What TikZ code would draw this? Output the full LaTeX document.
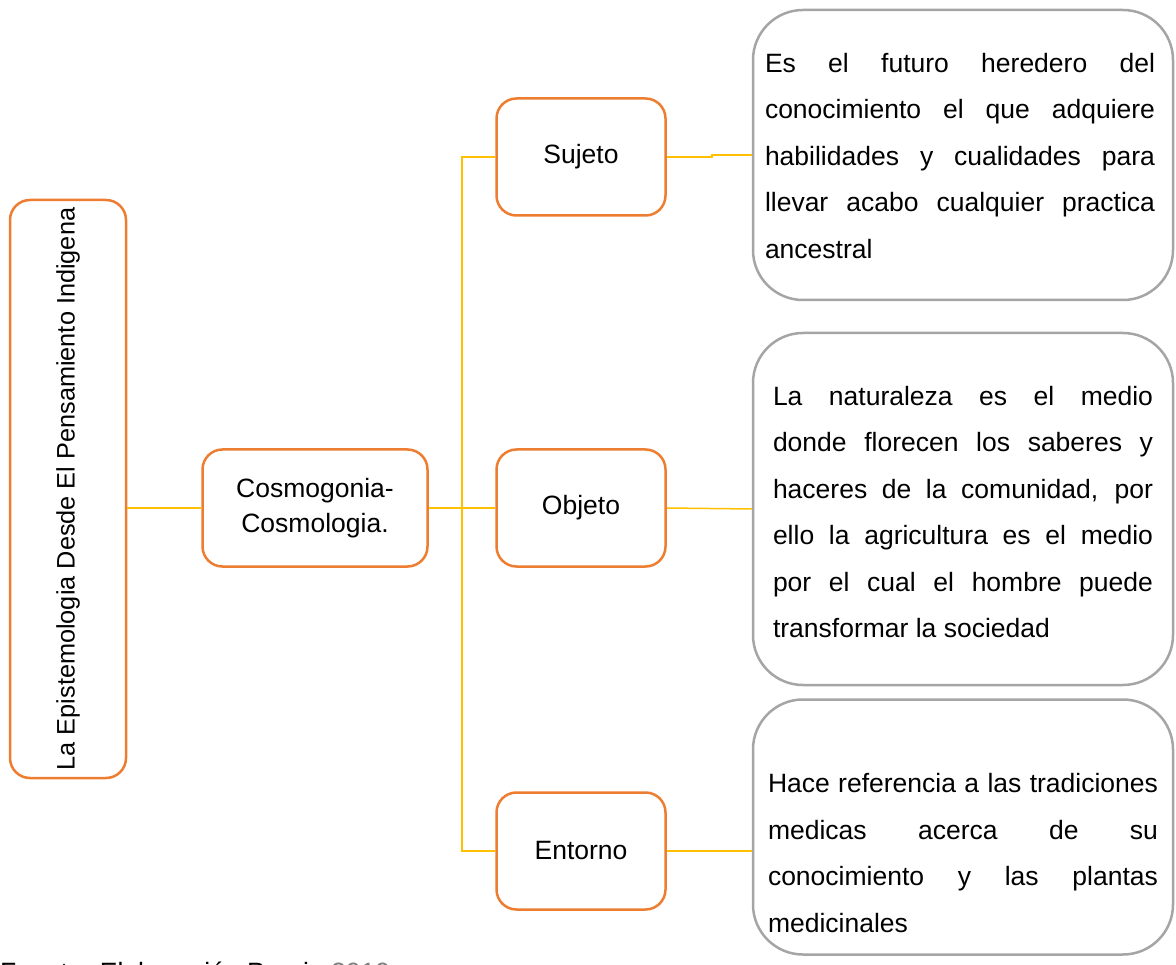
\documentclass[tikz,border=0pt]{standalone}
\usepackage{fontspec}
\setmainfont{Liberation Sans}
\usetikzlibrary{positioning}
\definecolor{naranja}{HTML}{ED7D31}
\definecolor{gris}{HTML}{A5A5A5}
\definecolor{amarillo}{HTML}{FFC000}
\tikzset{
  caja/.style={draw=naranja, line width=2.5pt, rounded corners=20pt, minimum width=169pt, minimum height=117pt, align=center, font=\fontsize{26.5}{35}\selectfont},
  nota/.style={draw=gris, line width=2.5pt, rounded corners=50pt, minimum width=420pt},
  texto/.style={text width=390pt, align=justify, inner sep=0pt, font=\fontsize{26.5}{46.5}\selectfont},
  enlace/.style={draw=amarillo, line width=1.5pt}
}

\begin{document}
\begin{tikzpicture}[x=1pt, y=-1pt]
\useasboundingbox (0,0) rectangle (1176,965);

\node [caja, rotate=90, minimum width=578pt, minimum height=116pt, inner xsep=0pt, font=\fontsize{25.3}{30}\selectfont] (epi) at (68,489) {La Epistemologia Desde El Pensamiento Indigena};
\node [caja, minimum width=225pt] (cosmo) at (315,508) {Cosmogonia-\\Cosmologia.};
\node [caja] (sujeto) at (581,157) {Sujeto};
\node [caja] (objeto) at (581,508) {Objeto};
\node [caja] (entorno) at (581,851) {Entorno};

\node [nota, minimum height=290pt] (notaA) at (963,155) {};
\node [nota, minimum height=352pt] (notaB) at (963,509) {};
\node [nota, minimum height=255pt] (notaC) at (963,827) {};
\node [texto] (txtA) at (960,156) {Es el futuro heredero del\linebreak conocimiento el que adquiere\linebreak habilidades y cualidades para\linebreak llevar acabo cualquier practica\linebreak ancestral};
\node [texto, text width=380pt] (txtB) at (963,512) {La naturaleza es el medio\linebreak donde florecen los saberes y\linebreak haceres de la comunidad, por\linebreak ello la agricultura es el medio\linebreak por el cual el hombre puede\linebreak transformar la sociedad};
\node [texto] (txtC) at (963,853) {Hace referencia a las tradiciones\linebreak medicas acerca de su\linebreak conocimiento y las plantas\linebreak medicinales};

\coordinate (tronco) at (462,508);
\draw[enlace] (cosmo.west) -- (cosmo.west -| epi.south);
\draw[enlace] (cosmo.east) -- (tronco);
\draw[enlace] (tronco) |- (sujeto.west);
\draw[enlace] (tronco) |- (objeto.west);
\draw[enlace] (tronco) |- (entorno.west);
\draw[enlace] (sujeto.east) -- ++(45,0) |- (notaA.west);
\draw[enlace] (objeto.east) -- (notaB.west);
\draw[enlace] (entorno.east) -- (entorno.east -| notaC.west);

\node [anchor=base west, inner sep=0pt, font=\fontsize{26.5}{30}\selectfont] (fuente) at (0,981) {Fuente: Elaboración Propia {\color{gray}2019}};

\end{tikzpicture}
\end{document}
